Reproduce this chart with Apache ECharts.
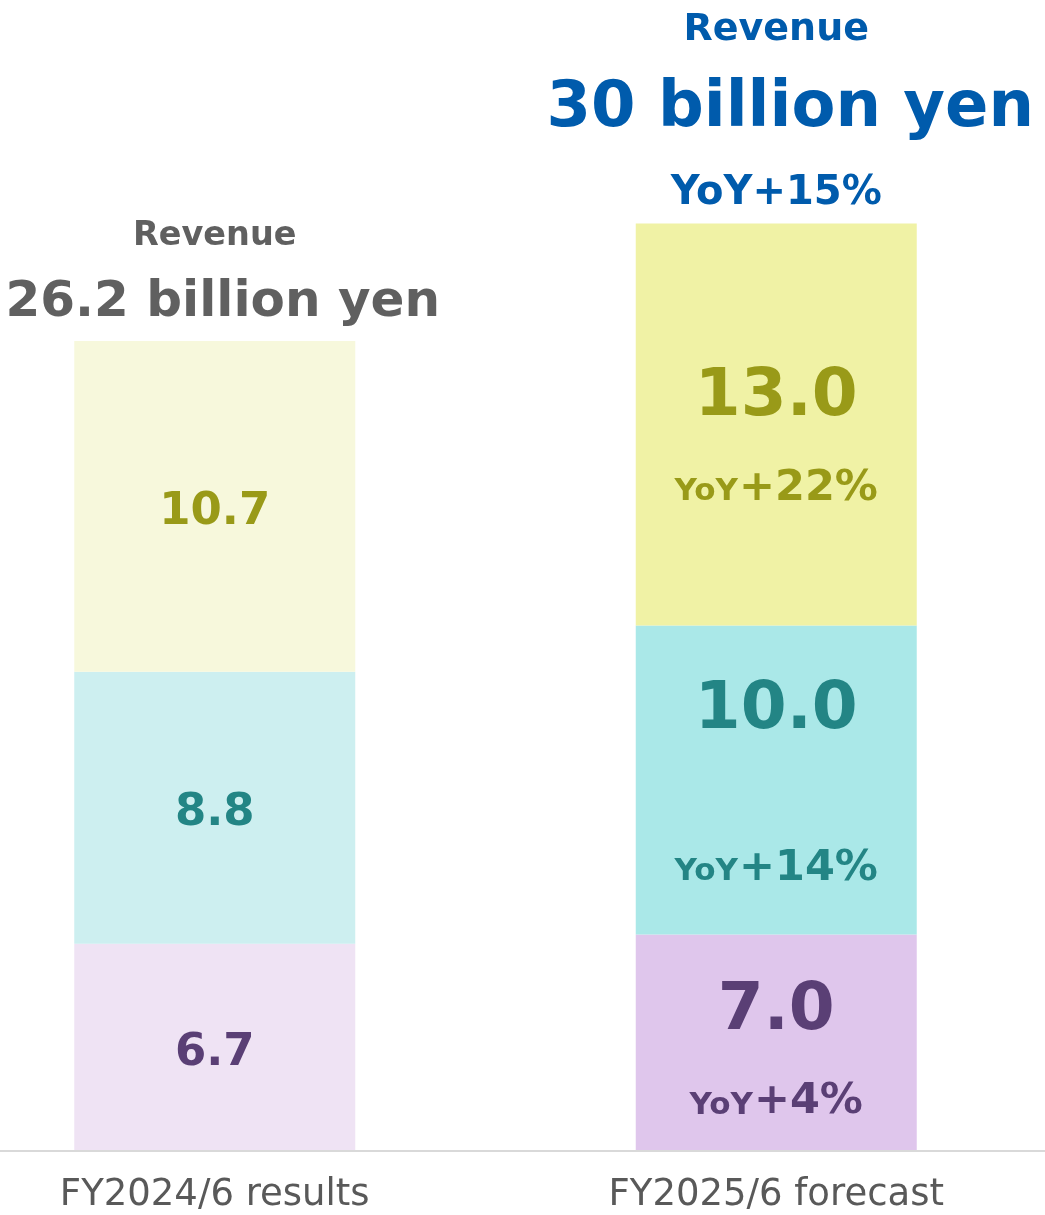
<!DOCTYPE html>
<html>
<head>
<meta charset="utf-8">
<script src="https://cdn.jsdelivr.net/npm/echarts@6/dist/echarts.min.js"></script>
<style>
  html, body { margin: 0; padding: 0; background: #ffffff; }
  #chart { width: 1045px; height: 1215px; }
</style>
</head>
<body>
<div id="chart"></div>
<script>
// Revenue breakdown (billion yen), bottom to top of each stacked bar
const categories = ['FY2024/6 results', 'FY2025/6 forecast'];
const bottomValues = [6.7, 7.0];
const middleValues = [8.8, 10.0];
const topValues = [10.7, 13.0];
const bottomYoY = [null, '+4%'];
const middleYoY = [null, '+14%'];
const topYoY = [null, '+22%'];
const totalRevenue = [26.2, 30];
const totalYoY = [null, '+15%'];

const FONT = 'DejaVu Sans';

// Styling per segment: [results fill, forecast fill], label colour, forecast label layout
const segmentStyles = [
  { fills: ['#efe3f4', '#dfc6ec'], text: '#5a3f75', gap: 90, shift: 14.5 },
  { fills: ['#cdeff0', '#aae8e8'], text: '#238585', gap: 158, shift: 9.5 },
  { fills: ['#f7f8dc', '#f0f2a5'], text: '#999a18', gap: 91, shift: 19 }
];
const segmentValues = [bottomValues, middleValues, topValues];
const segmentYoY = [bottomYoY, middleYoY, topYoY];
const segmentNames = ['Segment C', 'Segment B', 'Segment A'];

function segmentData(idx) {
  const st = segmentStyles[idx];
  return segmentValues[idx].map((v, i) => {
    const yoy = segmentYoY[idx][i];
    const item = { value: v, itemStyle: { color: st.fills[i] } };
    if (yoy) {
      item.label = {
        show: true,
        position: 'inside',
        offset: [0, st.shift],
        formatter: (p) => '{v|' + p.value.toFixed(1) + '}\n{s|YoY}{p|' + yoy + '}',
        rich: {
          v: { fontFamily: FONT, fontWeight: 'bold', fontSize: 66, color: st.text, lineHeight: st.gap, align: 'center' },
          s: { fontFamily: FONT, fontWeight: 'bold', fontSize: 31, color: st.text, lineHeight: st.gap, padding: [7, 1, 0, 0] },
          p: { fontFamily: FONT, fontWeight: 'bold', fontSize: 43, color: st.text, lineHeight: st.gap }
        }
      };
    } else {
      item.label = {
        show: true,
        position: 'inside',
        offset: [0, 6],
        formatter: (p) => p.value.toFixed(1),
        fontFamily: FONT, fontWeight: 'bold', fontSize: 45, color: st.text
      };
    }
    return item;
  });
}

const stackSeries = segmentStyles.map((st, idx) => ({
  name: segmentNames[idx],
  type: 'bar',
  stack: 'revenue',
  barWidth: 281,
  barGap: '-100%',
  z: 3,
  silent: true,
  data: segmentData(idx)
}));

// Transparent total bar carries the revenue headline above each stack
const totalHeadline = totalRevenue.map((v, i) => {
  const forecast = !!totalYoY[i];
  const color = forecast ? '#005bac' : '#606060';
  return {
    value: v,
    itemStyle: { color: 'rgba(0,0,0,0)' },
    label: {
      show: true,
      position: 'top',
      distance: forecast ? 0 : 8,
      formatter: (p) => forecast
        ? '{r|Revenue}\n{b|' + p.value + ' billion yen}\n{y|YoY' + totalYoY[i] + '}'
        : '{r|Revenue}\n{b|' + p.value + ' billion yen}',
      rich: forecast ? {
        r: { fontFamily: FONT, fontWeight: 'bold', fontSize: 38, color, lineHeight: 50 },
        b: { fontFamily: FONT, fontWeight: 'bold', fontSize: 64, color, lineHeight: 108, padding: [0, 0, 0, 28] },
        y: { fontFamily: FONT, fontWeight: 'bold', fontSize: 40, color, lineHeight: 60 }
      } : {
        r: { fontFamily: FONT, fontWeight: 'bold', fontSize: 33.5, color, lineHeight: 74 },
        b: { fontFamily: FONT, fontWeight: 'bold', fontSize: 50, color, lineHeight: 60, padding: [0, 0, 0, 16] }
      }
    }
  };
});

const chart = echarts.init(document.getElementById('chart'), null, { renderer: 'canvas' });
chart.setOption({
  animation: false,
  backgroundColor: '#ffffff',
  grid: { left: -66, right: -12, top: 7, bottom: 64, containLabel: false, outerBoundsMode: 'none' },
  xAxis: {
    type: 'category',
    data: categories,
    axisLine: { show: true, lineStyle: { color: '#d9d9d9', width: 2 } },
    axisTick: { show: false },
    axisLabel: { fontFamily: FONT, fontSize: 37, color: '#595959', margin: 24, lineHeight: 40 },
    z: 5
  },
  yAxis: { type: 'value', min: 0, max: 37, show: false, splitLine: { show: false } },
  series: stackSeries.concat([{
    name: 'Revenue',
    type: 'bar',
    barWidth: 281,
    barGap: '-100%',
    z: 1,
    silent: true,
    data: totalHeadline
  }])
});
</script>
</body>
</html>
